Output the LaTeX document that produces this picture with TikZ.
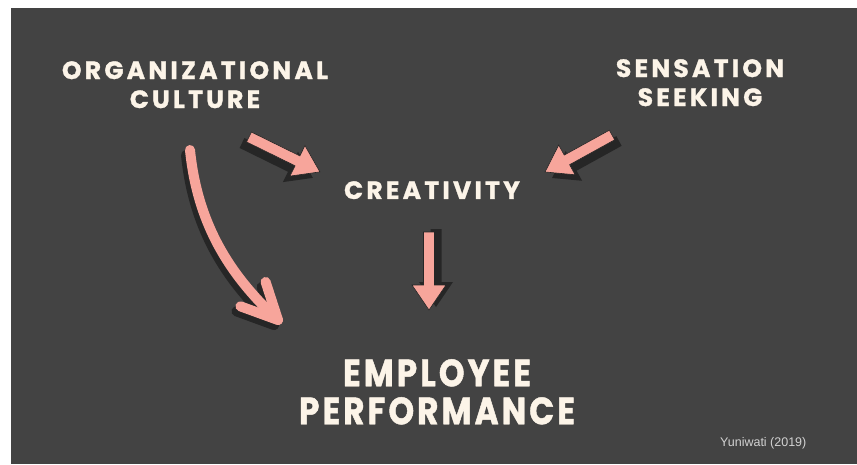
\documentclass[tikz,border=0pt]{standalone}
\usepackage{fontspec}
\setmainfont{Liberation Sans}
\newfontfamily\headfont[LetterSpace=13,BoldFeatures={FakeBold=1.2}]{Poppins}
\newfontfamily\bigfont[FakeStretch=0.86,LetterSpace=8,BoldFeatures={FakeBold=1.2}]{Poppins}
\definecolor{slate}{HTML}{434343}
\definecolor{cream}{HTML}{FCF4E8}
\definecolor{salmon}{HTML}{F7A59B}
\definecolor{inkdark}{HTML}{262626}
\definecolor{credit}{HTML}{D2D2D2}
\tikzset{
	topic/.style={text=cream,inner sep=0pt,align=center,
		font=\headfont\bfseries\fontsize{25}{29}\selectfont},
	outcome/.style={topic,font=\bigfont\bfseries\fontsize{38}{38}\selectfont},
	source/.style={text=credit,inner sep=0pt,font=\fontsize{12.5}{14}\selectfont},
	pinkline/.style={draw=salmon,line width=10pt,line cap=round,line join=round},
	darkline/.style={pinkline,draw=inkdark},
}
% fat arrow: tail point, turn, length, shadow shift
\newcommand{\fatarrow}[4]{%
	\begin{scope}[transform canvas={shift={#4}}]
		\fill[inkdark,shift={#1},rotate=#2]
			(0,-5.5) -- (#3-25,-5.5) -- (#3-25,-17) -- (#3,0)
			-- (#3-25,17) -- (#3-25,5.5) -- (0,5.5) -- cycle;
	\end{scope}
	\filldraw[fill=salmon,draw=inkdark,line width=0.6pt,shift={#1},rotate=#2]
		(0,-5.5) -- (#3-25,-5.5) -- (#3-25,-17) -- (#3,0)
		-- (#3-25,17) -- (#3-25,5.5) -- (0,5.5) -- cycle;
}
\begin{document}
\begin{tikzpicture}[x=1pt,y=-1pt]
	\useasboundingbox (0,0) rectangle (857,464);
	\fill[slate] (11,8) rectangle (857,464);

	\node[topic,anchor=north](org) at (195,61) {ORGANIZATIONAL\\CULTURE};
	\node[topic,anchor=north](sens) at (700,59) {SENSATION\\SEEKING};
	\node[topic,anchor=north](crea) at (432,181) {CREATIVITY};
	\node[outcome,anchor=north](perf) at (437,359) {EMPLOYEE\\PERFORMANCE};
	\node[source,anchor=base west](src) at (720,446) {Yuniwati (2019)};

	\coordinate (a1) at (249,137);
	\coordinate (a2) at (612,135);
	\coordinate (a3) at (429,232);
	\fatarrow{(a1)}{-26.2}{79}{(-7,6)}
	\fatarrow{(a2)}{208.9}{76.5}{(7,6)}
	\fatarrow{(a3)}{-90}{78}{(7,-3)}

	% curved arrow from culture down to performance
	\coordinate (c0) at (190,150);
	\coordinate (c1) at (278,320);
	\begin{scope}[transform canvas={shift={(-4,5)}}]
		\draw[darkline] (c0) .. controls (198,230) and (235,280) .. (c1);
		\draw[darkline] ([shift={(252:40)}]c1) -- (c1) -- ([shift={(200:40)}]c1);
	\end{scope}
	\draw[pinkline] (c0) .. controls (198,230) and (235,280) .. (c1);
	\draw[pinkline] ([shift={(252:40)}]c1) -- (c1) -- ([shift={(200:40)}]c1);
\end{tikzpicture}
\end{document}
